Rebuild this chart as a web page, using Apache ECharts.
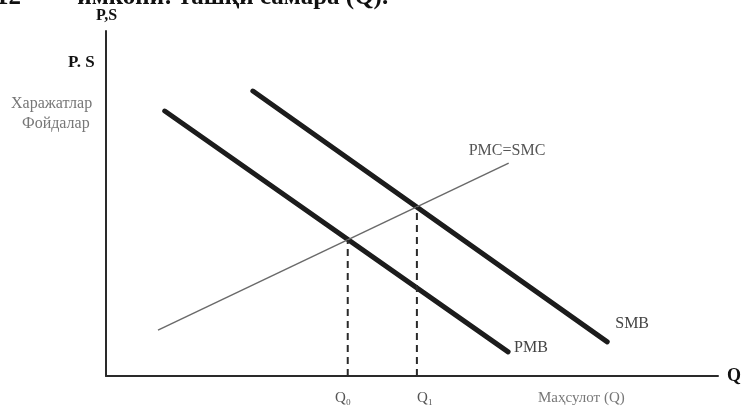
<!DOCTYPE html>
<html>
<head>
<meta charset="utf-8">
<script src="https://cdn.jsdelivr.net/npm/echarts@6/dist/echarts.min.js"></script>
<style>
html,body{margin:0;padding:0;background:#fff;}
#c{width:748px;height:409px;}
</style>
</head>
<body>
<div id="c"></div>
<script>
// Data (abstract units 0..100 on both axes)
const pmbPoints = [[9.6, 76.8], [65.7, 7.0]];
const smbPoints = [[24.0, 82.6], [81.9, 9.9]];
const pmcPoints = [[8.5, 13.3], [65.8, 61.7]];
const q0Drop = [[39.5, 0], [39.5, 39.4]];
const q1Drop = [[50.8, 0], [50.8, 49.0]];
const seriesNames = ['PMB', 'SMB', 'PMC=SMC'];
const qTickLabels = ['Q₀', 'Q₁'];
const axisLabels = { y: 'P,S', y2: 'P. S', yDesc: ['Харажатлар', 'Фойдалар'], x: 'Q', xDesc: 'Маҳсулот (Q)' };
const headerText = '12  —   имкони: ташқи самара (Q).';

const serif = '"Liberation Serif", "DejaVu Serif", serif';
const chart = echarts.init(document.getElementById('c'), null, { renderer: 'canvas' });

function thickLine(name, data, offset) {
  return {
    name: name, type: 'line', data: data, symbol: 'none', silent: true,
    lineStyle: { color: '#1c1c1c', width: 5, cap: 'round' },
    endLabel: { show: true, formatter: name, color: '#444', fontFamily: serif, fontSize: 16, offset: offset }
  };
}

chart.setOption({
  backgroundColor: '#ffffff',
  animation: false,
  grid: { left: 106, right: 30, top: 31, bottom: 33 },
  xAxis: {
    type: 'value', min: 0, max: 100,
    axisLine: { show: true, lineStyle: { color: '#2a2a2a', width: 2 } },
    axisTick: { show: false }, axisLabel: { show: false }, splitLine: { show: false }
  },
  yAxis: {
    type: 'value', min: 0, max: 100,
    axisLine: { show: true, lineStyle: { color: '#2a2a2a', width: 2 } },
    axisTick: { show: false }, axisLabel: { show: false }, splitLine: { show: false }
  },
  series: [
    thickLine(seriesNames[0], pmbPoints, [-2, -4]),
    thickLine(seriesNames[1], smbPoints, [0, -18]),
    {
      name: seriesNames[2], type: 'line', data: pmcPoints, symbol: 'none', silent: true,
      lineStyle: { color: '#6a6a6a', width: 1.5 },
      endLabel: { show: true, formatter: seriesNames[2], color: '#555', fontFamily: serif, fontSize: 16, offset: [-48, -12] }
    },
    {
      type: 'line', data: q0Drop, symbol: 'none', silent: true,
      lineStyle: { color: '#2a2a2a', width: 2, type: [7, 5] }
    },
    {
      type: 'line', data: q1Drop, symbol: 'none', silent: true,
      lineStyle: { color: '#2a2a2a', width: 2, type: [7, 5] }
    }
  ],
  graphic: [
    { type: 'text', left: -4, top: -15, style: { text: headerText, font: 'bold 25px ' + serif, fill: '#111' } },
    { type: 'text', left: 96, top: 8, style: { text: axisLabels.y, font: 'bold 16px ' + serif, fill: '#111' } },
    { type: 'text', left: 68, top: 54, style: { text: axisLabels.y2, font: 'bold 17px ' + serif, fill: '#111' } },
    { type: 'text', left: 11, top: 96, style: { text: axisLabels.yDesc[0], font: '16px ' + serif, fill: '#777' } },
    { type: 'text', left: 22, top: 116, style: { text: axisLabels.yDesc[1], font: '16px ' + serif, fill: '#777' } },
    { type: 'text', left: 727, top: 367, style: { text: axisLabels.x, font: 'bold 18px ' + serif, fill: '#111' } },
    { type: 'text', left: 335, top: 391, style: { text: qTickLabels[0], font: '15px ' + serif, fill: '#555' } },
    { type: 'text', left: 417, top: 391, style: { text: qTickLabels[1], font: '15px ' + serif, fill: '#555' } },
    { type: 'text', left: 538, top: 391, style: { text: axisLabels.xDesc, font: '15px ' + serif, fill: '#777' } }
  ]
});
</script>
</body>
</html>
